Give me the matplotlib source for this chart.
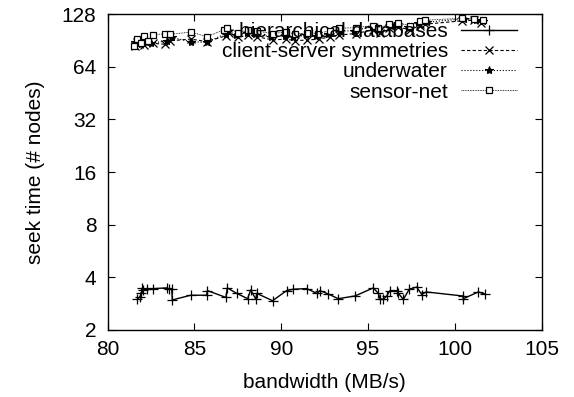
#
# Imports
#
from matplotlib import pyplot as plt
import numpy as np

plt.rcParams['font.family'] = ['Liberation Sans', 'DejaVu Sans']

#
# Data
#
hier_x = [81.71, 81.86, 81.94, 81.99, 82.05, 82.25, 82.63, 83.40, 83.56, 83.69,
          83.72, 84.78, 85.70, 85.74, 86.81, 86.89, 87.43, 88.06, 88.24, 88.54,
          88.58, 89.50, 90.31, 90.69, 91.46, 92.04, 92.23, 92.71, 93.28, 94.25,
          95.30, 95.59, 95.69, 95.88, 96.07, 96.26, 96.65, 96.75, 97.03, 97.37,
          97.80, 98.09, 98.34, 100.45, 100.49, 101.35, 101.73]
hier_y = [2.99, 3.10, 3.24, 3.47, 3.39, 3.45, 3.45, 3.48, 3.42, 3.42,
          2.97, 3.16, 3.16, 3.36, 3.07, 3.48, 3.24, 3.02, 3.39, 2.99,
          3.24, 2.94, 3.36, 3.42, 3.45, 3.24, 3.36, 3.21, 3.02, 3.13,
          3.48, 3.24, 3.02, 2.99, 3.13, 3.36, 3.36, 3.24, 2.99, 3.42,
          3.52, 3.19, 3.30, 3.13, 3.02, 3.30, 3.21]

cs_x = [81.6, 81.7, 81.8, 82.0, 82.1, 82.6, 83.3, 83.6, 84.8, 85.7,
        86.8, 87.0, 87.5, 88.1, 88.6, 89.5, 90.3, 90.8, 91.5, 92.2,
        92.8, 93.3, 94.3, 95.3, 95.7, 96.2, 96.7, 97.4, 98.0, 98.3,
        100.4, 101.1, 101.5]
cs_y = [84, 88, 86, 90, 85, 87, 86, 90, 92, 89,
        96, 100, 94, 97, 95, 91, 92, 90, 91, 92,
        95, 97, 99, 104, 100, 106, 108, 104, 110, 112,
        117, 118, 114]

uw_x = [81.6, 81.8, 81.9, 82.0, 82.2, 82.5, 83.4, 83.7, 84.8, 85.7,
        86.8, 86.9, 87.4, 88.0, 88.5, 89.4, 90.2, 90.7, 91.4, 92.0,
        92.7, 93.4, 94.2, 95.2, 95.6, 96.3, 96.6, 97.3, 97.9, 98.4,
        100.5, 101.2, 101.6]
uw_y = [88, 91, 86, 93, 89, 87, 90, 94, 89, 88,
        99, 103, 97, 100, 98, 95, 96, 94, 97, 96,
        99, 102, 103, 108, 104, 110, 111, 108, 114, 115,
        120, 119, 117]

sn_x = [81.5, 81.7, 81.9, 82.1, 82.3, 82.6, 83.3, 83.6, 84.8, 85.7,
        86.7, 86.9, 87.5, 88.1, 88.6, 89.5, 90.3, 90.8, 91.5, 92.1,
        92.8, 93.3, 94.3, 95.3, 95.6, 96.2, 96.7, 97.4, 98.0, 98.3,
        100.4, 101.1, 101.6]
sn_y = [84, 92, 87, 96, 90, 97, 99, 98, 101, 95,
        104, 107, 100, 104, 102, 99, 101, 98, 100, 99,
        103, 106, 107, 110, 106, 112, 114, 110, 116, 118,
        121, 120, 118]

#
# main
#
if __name__ == "__main__":
    fs = 15
    fig = plt.figure(figsize=(5.74, 3.97), dpi=100)
    ax = fig.add_axes([0.1876, 0.1688, 0.7561, 0.7959])

    ax.plot(hier_x, hier_y, '-k+', lw=1, ms=7, mew=0.9, label='hierarchical databases')
    ax.plot(cs_x, cs_y, '--kx', lw=0.8, ms=5.5, mew=0.9, dashes=(3, 2),
            label='client-server symmetries')
    ax.plot(uw_x, uw_y, ':k*', lw=0.8, ms=6, mew=0.8, label='underwater')
    ax.plot(sn_x, sn_y, 'k', ls=(0, (1, 1)), lw=0.6, marker='s', ms=4.5,
            mfc='white', mew=0.9, label='sensor-net')

    ax.set_yscale('log', base=2)
    ax.set_xlim(80, 105)
    ax.set_ylim(2, 128)
    ax.set_xticks([80, 85, 90, 95, 100, 105])
    ax.set_yticks([2, 4, 8, 16, 32, 64, 128])
    ax.set_yticklabels(['2', '4', '8', '16', '32', '64', '128'])
    ax.minorticks_off()
    ax.tick_params(direction='in', length=5, width=0.8, labelsize=fs,
                   top=True, right=True, colors='black')
    ax.tick_params(axis='x', pad=7)
    ax.tick_params(axis='y', pad=8)
    for s in ax.spines.values():
        s.set_linewidth(1)

    ax.set_xlabel('bandwidth (MB/s)', fontsize=fs, labelpad=10)
    ax.set_ylabel('seek time (# nodes)', fontsize=fs, labelpad=12)

    ax.legend(loc='upper right', frameon=False, markerfirst=False, fontsize=fs,
              handlelength=2.65, handletextpad=0.65, labelspacing=0.06,
              borderpad=0, borderaxespad=0, bbox_to_anchor=(0.942, 0.975))

    fig.savefig('out.png', dpi=100)
